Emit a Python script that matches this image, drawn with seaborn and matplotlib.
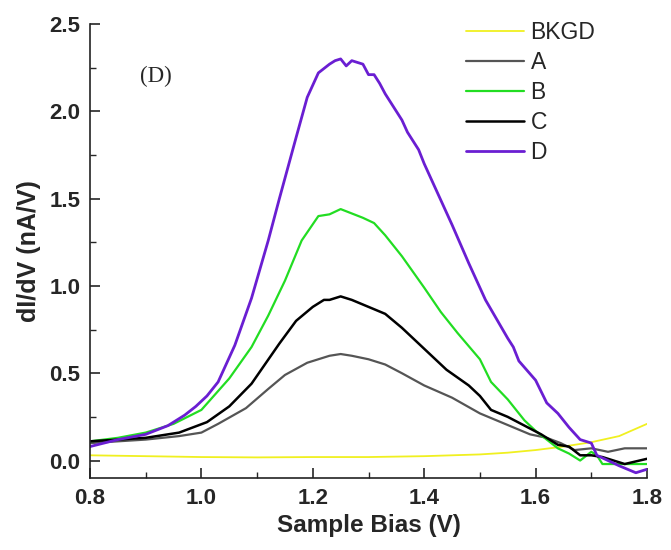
import numpy as np
import pandas as pd
import matplotlib
matplotlib.use("Agg")
import matplotlib.pyplot as plt
import seaborn as sns
from matplotlib.ticker import MultipleLocator

# ---- data ----
series_names = ["BKGD", "A", "B", "C", "D"]

bkgd_x = [0.80, 0.90, 1.00, 1.10, 1.20, 1.30, 1.40, 1.45, 1.50, 1.55, 1.60, 1.65, 1.70, 1.75, 1.80]
bkgd_y = [0.030, 0.025, 0.020, 0.018, 0.020, 0.020, 0.025, 0.030, 0.035, 0.045, 0.060, 0.080, 0.105, 0.14, 0.21]

a_x = [0.80, 0.85, 0.90, 0.96, 1.00, 1.03, 1.08, 1.12, 1.15, 1.19, 1.21, 1.23, 1.25, 1.27, 1.30,
       1.33, 1.36, 1.40, 1.45, 1.50, 1.53, 1.56, 1.59, 1.62, 1.645, 1.67, 1.70, 1.73, 1.76, 1.80]
a_y = [0.10, 0.11, 0.12, 0.14, 0.16, 0.21, 0.30, 0.41, 0.49, 0.56, 0.58, 0.60, 0.61, 0.60, 0.58,
       0.55, 0.50, 0.43, 0.36, 0.27, 0.23, 0.19, 0.15, 0.13, 0.10, 0.06, 0.07, 0.05, 0.07, 0.07]

b_x = [0.80, 0.85, 0.90, 0.95, 1.00, 1.05, 1.09, 1.12, 1.15, 1.18, 1.21, 1.23, 1.25, 1.29, 1.31,
       1.33, 1.36, 1.40, 1.43, 1.46, 1.50, 1.52, 1.55, 1.58, 1.60, 1.64, 1.66, 1.68, 1.70, 1.71,
       1.72, 1.80]
b_y = [0.11, 0.13, 0.16, 0.21, 0.29, 0.47, 0.65, 0.83, 1.03, 1.26, 1.40, 1.41, 1.44, 1.39, 1.36,
       1.29, 1.17, 0.99, 0.85, 0.73, 0.58, 0.45, 0.35, 0.23, 0.17, 0.07, 0.04, 0.00, 0.05, 0.03,
       -0.02, -0.02]

c_x = [0.80, 0.85, 0.90, 0.96, 1.01, 1.05, 1.09, 1.14, 1.17, 1.20, 1.22, 1.23, 1.25, 1.27, 1.30,
       1.33, 1.36, 1.40, 1.44, 1.48, 1.50, 1.52, 1.55, 1.58, 1.61, 1.64, 1.66, 1.68, 1.70, 1.72,
       1.76, 1.80]
c_y = [0.11, 0.12, 0.13, 0.16, 0.22, 0.31, 0.44, 0.67, 0.80, 0.88, 0.92, 0.92, 0.94, 0.92, 0.88,
       0.84, 0.76, 0.64, 0.52, 0.43, 0.37, 0.29, 0.25, 0.20, 0.15, 0.09, 0.08, 0.03, 0.03, 0.02,
       -0.02, 0.01]

d_x = [0.80, 0.85, 0.90, 0.94, 0.97, 0.99, 1.01, 1.03, 1.06, 1.09, 1.12, 1.14, 1.17, 1.19, 1.21,
       1.23, 1.24, 1.25, 1.26, 1.27, 1.29, 1.30, 1.31, 1.32, 1.33, 1.34, 1.36, 1.37, 1.39, 1.40,
       1.42, 1.45, 1.48, 1.51, 1.53, 1.55, 1.56, 1.57, 1.60, 1.62, 1.64, 1.66, 1.68, 1.70, 1.71,
       1.73, 1.75, 1.78, 1.80]
d_y = [0.08, 0.12, 0.15, 0.20, 0.26, 0.31, 0.37, 0.45, 0.66, 0.93, 1.26, 1.50, 1.85, 2.08, 2.22,
       2.27, 2.29, 2.30, 2.26, 2.29, 2.27, 2.21, 2.21, 2.16, 2.10, 2.05, 1.95, 1.88, 1.78, 1.70,
       1.56, 1.35, 1.13, 0.92, 0.81, 0.70, 0.65, 0.57, 0.46, 0.33, 0.27, 0.19, 0.12, 0.10, 0.03,
       0.00, -0.03, -0.07, -0.05]

colors = {"BKGD": "#f0f020", "A": "#555555", "B": "#22dd22", "C": "#000000", "D": "#6a1ed2"}
widths = {"BKGD": 1.3, "A": 1.6, "B": 1.6, "C": 1.8, "D": 2.0}

frames = []
for name, xs, ys in [("BKGD", bkgd_x, bkgd_y), ("A", a_x, a_y), ("B", b_x, b_y),
                     ("C", c_x, c_y), ("D", d_x, d_y)]:
    frames.append(pd.DataFrame({"bias": xs, "didv": ys, "series": name}))
df = pd.concat(frames, ignore_index=True)

sns.set_style("ticks")
plt.rcParams["font.family"] = ["Liberation Sans", "DejaVu Sans"]

fig = plt.figure(figsize=(6.71, 5.5), dpi=100)
ax = fig.add_axes([90 / 671, 1 - 478 / 550, 557 / 671, (478 - 24) / 550])

for name in series_names:
    sub = df[df["series"] == name]
    sns.lineplot(data=sub, x="bias", y="didv", ax=ax, color=colors[name],
                 linewidth=widths[name], label=name, sort=False, estimator=None)

ax.set_xlim(0.8, 1.8)
ax.set_ylim(-0.1, 2.5)
ax.xaxis.set_major_locator(MultipleLocator(0.2))
ax.xaxis.set_minor_locator(MultipleLocator(0.1))
ax.yaxis.set_major_locator(MultipleLocator(0.5))
ax.yaxis.set_minor_locator(MultipleLocator(0.25))
ax.tick_params(which="major", direction="in", length=7, width=1.2)
ax.tick_params(which="minor", direction="in", length=4, width=1.0)
ax.tick_params(axis="x", which="major", pad=7.5)
ax.tick_params(axis="y", which="major", pad=7)
xt = [0.8, 1.0, 1.2, 1.4, 1.6, 1.8]
yt = [0.0, 0.5, 1.0, 1.5, 2.0, 2.5]
ax.set_xticks(xt)
ax.set_yticks(yt)
ax.set_xticklabels([f"{v:.1f}" for v in xt], fontweight="bold", fontsize=16)
ax.set_yticklabels([f"{v:.1f}" for v in yt], fontweight="bold", fontsize=16)
ax.set_xlim(0.8, 1.8)
ax.set_ylim(-0.1, 2.5)

ax.set_xlabel("Sample Bias (V)", fontsize=17.5, fontweight="bold", labelpad=3)
ax.set_ylabel("dI/dV (nA/V)", fontsize=18, fontweight="bold", labelpad=6)

sns.despine(ax=ax)
for sp in ["left", "bottom"]:
    ax.spines[sp].set_linewidth(1.2)
    ax.spines[sp].set_color("#222222")

ax.text((140 - 90) / 557, (478 - 76) / 454, "(D)", transform=ax.transAxes, fontsize=16.5,
        va="center", ha="left", family=["Liberation Serif", "DejaVu Serif"])

leg = ax.legend(loc="upper left", bbox_to_anchor=(455 / 671, 1 - 10 / 550),
                bbox_transform=fig.transFigure, frameon=False, fontsize=16.5,
                handlelength=2.5, handletextpad=0.3, labelspacing=0.30, borderpad=0)

fig.savefig("out.png", dpi=100)
